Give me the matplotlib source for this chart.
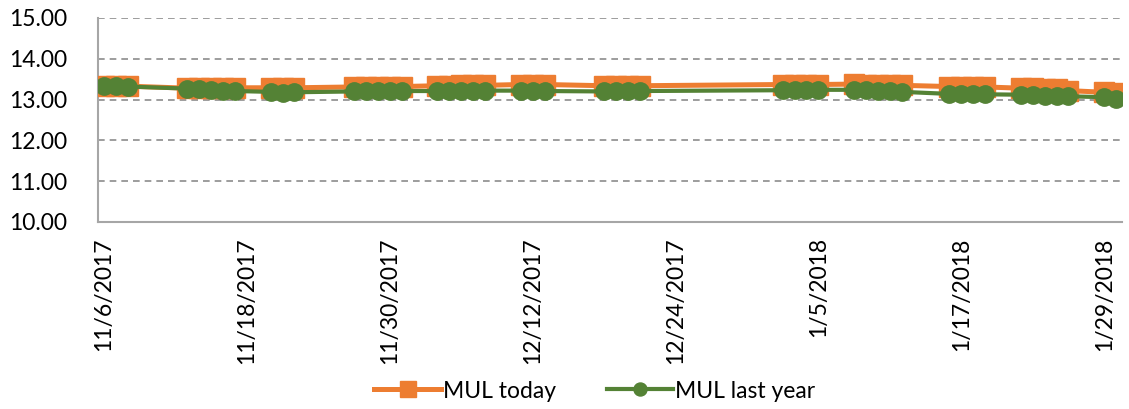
import matplotlib
matplotlib.use("Agg")
import matplotlib.pyplot as plt
import datetime as dt

plt.rcParams['font.family'] = ['Lato', 'DejaVu Sans']

dates = [
    "2017-11-06", "2017-11-07", "2017-11-08",
    "2017-11-13", "2017-11-14", "2017-11-15", "2017-11-16", "2017-11-17",
    "2017-11-20", "2017-11-21", "2017-11-22",
    "2017-11-27", "2017-11-28", "2017-11-29", "2017-11-30", "2017-12-01",
    "2017-12-04", "2017-12-05", "2017-12-06", "2017-12-07", "2017-12-08",
    "2017-12-11", "2017-12-12", "2017-12-13",
    "2017-12-18", "2017-12-19", "2017-12-20", "2017-12-21",
    "2018-01-02", "2018-01-03", "2018-01-04", "2018-01-05",
    "2018-01-08", "2018-01-09", "2018-01-10", "2018-01-11", "2018-01-12",
    "2018-01-16", "2018-01-17", "2018-01-18", "2018-01-19",
    "2018-01-22", "2018-01-23", "2018-01-24", "2018-01-25", "2018-01-26",
    "2018-01-29", "2018-01-30",
]

mul_today = [
    13.33, 13.33, 13.33,
    13.28, 13.29, 13.29, 13.29, 13.29,
    13.29, 13.29, 13.29,
    13.31, 13.32, 13.32, 13.32, 13.32,
    13.34, 13.34, 13.35, 13.35, 13.35,
    13.37, 13.37, 13.37,
    13.34, 13.34, 13.34, 13.34,
    13.37, 13.37, 13.37, 13.37,
    13.38, 13.37, 13.37, 13.36, 13.35,
    13.32, 13.32, 13.31, 13.31,
    13.28, 13.28, 13.27, 13.25, 13.22,
    13.18, 13.17,
]

mul_last_year = [
    13.33, 13.33, 13.32,
    13.27, 13.25, 13.24, 13.22, 13.21,
    13.19, 13.17, 13.18,
    13.20, 13.20, 13.20, 13.20, 13.21,
    13.21, 13.21, 13.21, 13.21, 13.22,
    13.22, 13.22, 13.21,
    13.20, 13.21, 13.21, 13.21,
    13.23, 13.23, 13.24, 13.24,
    13.24, 13.23, 13.21, 13.20, 13.19,
    13.14, 13.14, 13.13, 13.13,
    13.12, 13.11, 13.10, 13.09, 13.08,
    13.06, 13.01,
]

tick_dates = ["2017-11-06", "2017-11-18", "2017-11-30", "2017-12-12",
              "2017-12-24", "2018-01-05", "2018-01-17", "2018-01-29"]
tick_labels = ["11/6/2017", "11/18/2017", "11/30/2017", "12/12/2017",
               "12/24/2017", "1/5/2018", "1/17/2018", "1/29/2018"]

y_ticks = [10, 11, 12, 13, 14, 15]

x = [dt.datetime.strptime(d, "%Y-%m-%d") for d in dates]
xt = [dt.datetime.strptime(d, "%Y-%m-%d") for d in tick_dates]

fig = plt.figure(figsize=(11.29, 4.09), dpi=100)
ax = fig.add_axes([98/1129, 1 - 222/409, (1122-98)/1129, (222-18)/409])

orange = "#ED7D31"
green = "#548235"

ax.plot(x, mul_today, color=orange, lw=3.6, marker="s", ms=14.5,
        mec=orange, mfc=orange, label="MUL today", zorder=3)
ax.plot(x, mul_last_year, color=green, lw=3.0, marker="o", ms=12.5,
        mec=green, mfc=green, label="MUL last year", zorder=4)

ax.set_ylim(10, 15)
ax.set_yticks(y_ticks)
ax.set_yticklabels([f"{v:.2f}" for v in y_ticks])
x0 = x[0] - dt.timedelta(hours=12)
x1 = x[-1] + dt.timedelta(hours=12)
ax.set_xlim(x0, x1)
ax.set_xticks(xt)
ax.set_xticklabels(tick_labels, rotation=90)

ax.grid(axis="y", color="#8c8c8c", linestyle=(0, (4, 3)), linewidth=1.2)
ax.set_axisbelow(True)
for s in ["top", "right"]:
    ax.spines[s].set_visible(False)
for s in ["left", "bottom"]:
    ax.spines[s].set_color("#a6a6a6")
    ax.spines[s].set_linewidth(1.5)
ax.tick_params(axis="both", length=0, labelsize=16.5, colors="black")
ax.tick_params(axis="y", pad=22)
ax.tick_params(axis="x", pad=11)

leg = fig.legend(loc="center", bbox_to_anchor=(595/1129, 1 - 391/409), ncol=2,
                 frameon=False, fontsize=16.5, handlelength=2.9,
                 handletextpad=0.1, columnspacing=2.2, markerscale=0.75)

fig.savefig("out.png", dpi=100)
